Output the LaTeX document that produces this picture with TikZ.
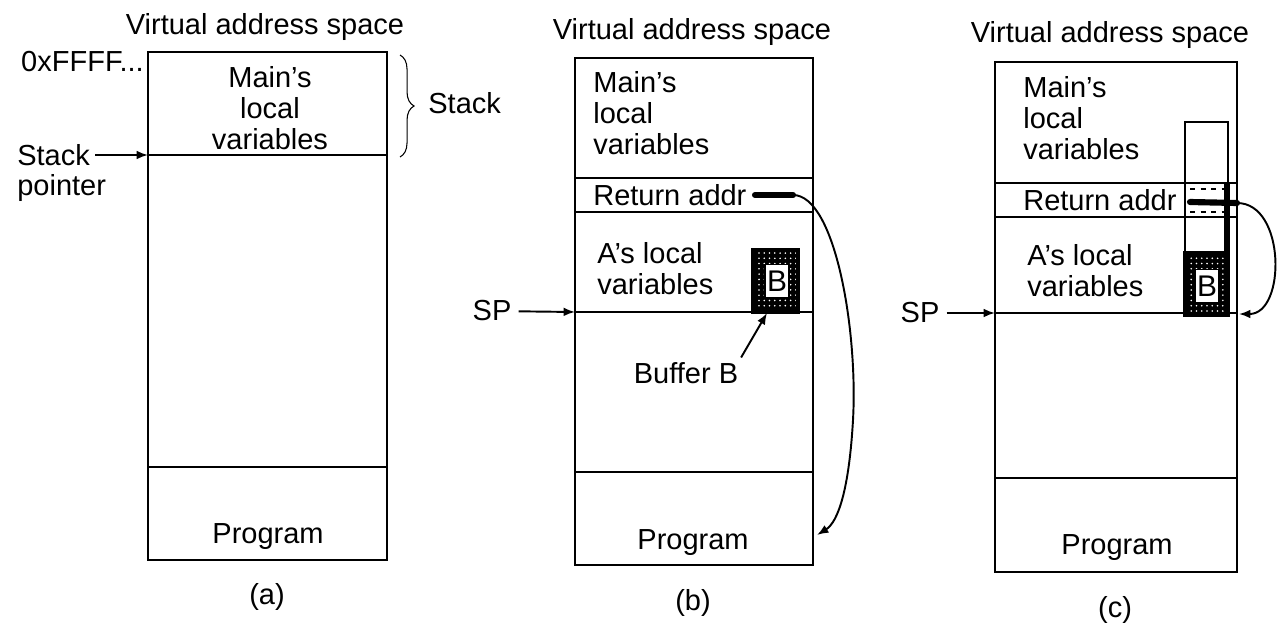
\documentclass[tikz,border=0pt]{standalone}
\usepackage{fontspec}
\setmainfont{Liberation Sans}
\usetikzlibrary{arrows.meta,positioning,calc,patterns,decorations.pathreplacing}

\begin{document}
\begin{tikzpicture}[
  x=0.02cm, y=-0.02cm,
  >={Latex[length=6.5pt,width=5pt]},
  lbl/.style={inner sep=0pt, font=\fontsize{16.5}{17.5}\selectfont},
  txt/.style={lbl, align=left, anchor=west},
  mem/.style={line width=1.1pt},
  arr/.style={->, line width=1.1pt},
  bar/.style={line width=3.5pt, line cap=round},
  bufbox/.style={draw, line width=1.1pt, fill=white, inner sep=0pt, minimum width=0.48cm, minimum height=0.66cm, font=\fontsize{17}{17}\selectfont},
]
\useasboundingbox (0,0) rectangle (1277,622);

%------------------- (a): before the call -------------------
\node (a-title) [lbl] at (265,27) {Virtual address space};
\draw[mem] (148,52) rectangle (387,560);
\draw[mem] (148,155) -- (387,155);
\draw[mem] (148,467) -- (387,467);
\node (a-main) [lbl, align=center] at (270,108) {Main's\\local\\variables};
\node (a-prog) [lbl] at (268,537) {Program};
\node (a-cap) [lbl] at (267,597) {(a)};
\node (a-top) [lbl, anchor=east] at (144,62) {0xFFFF...};

% stack pointer label
\node (a-stack) [lbl, anchor=west] at (17,155) {Stack};
\node (a-pointer) [lbl, anchor=west] at (17,188) {pointer};
\coordinate (a-sp) at (148,155);

% brace round the stack
\draw[decorate, decoration={brace, amplitude=8pt}, line width=0.6pt] (400,55) -- (400,157);
\node (a-stk) [lbl, anchor=west] at (428,103) {Stack};

%------------------- (b): A is called -------------------
\node (b-title) [lbl] at (692,32) {Virtual address space};
\draw[mem] (575,58) rectangle (813,565);
\foreach \y in {178,212,312,472} \draw[mem] (575,\y) -- (813,\y);
\node (b-main) [txt] at (593,113) {Main's\\local\\variables};
\node (b-ret) [txt] at (593,195) {Return addr};
\node (b-alocal) [txt] at (597,269) {A's local\\variables};
\node (b-prog) [lbl] at (693,543) {Program};
\node (b-cap) [lbl] at (693,603) {(b)};
\node (b-splbl) [lbl] at (492,311) {SP};
\coordinate (b-sp) at (575,312);

% buffer B
\fill[black] (753,250) rectangle (798,312);
\fill[pattern=dots, pattern color=white] (753,250) rectangle (798,312);
\draw[line width=2pt] (753,250) rectangle (798,312);
\node (b-buf) [bufbox] at (777,281) {B};
\coordinate (b-bufbot) at (767,313);
\node (b-bufname) [lbl] at (686,373) {Buffer B};

% return address
\coordinate (b-barL) at (755,195);
\coordinate (b-barR) at (793,195);
\coordinate (b-target) at (817,535);
\draw[bar] (b-barL) -- (b-barR);

%------------------- (c): buffer overflowed -------------------
\node (c-title) [lbl] at (1110,35) {Virtual address space};
\draw[mem] (995,62) rectangle (1237,572);
\foreach \y in {183,217,313,478} \draw[mem] (995,\y) -- (1237,\y);
\node (c-main) [txt] at (1023,118) {Main's\\local\\variables};
\node (c-ret) [txt] at (1023,200) {Return addr};
\node (c-alocal) [txt] at (1027,271) {A's local\\variables};
\node (c-prog) [lbl] at (1117,548) {Program};
\node (c-cap) [lbl] at (1115,610) {(c)};
\node (c-splbl) [lbl] at (920,313) {SP};
\coordinate (c-sp) at (995,313);

% overflowing buffer
\draw[mem] (1185,122) rectangle (1228,315);
\fill[black] (1185,253) rectangle (1228,315);
\fill[pattern=dots, pattern color=white] (1185,253) rectangle (1228,315);
\draw[line width=2pt] (1185,253) rectangle (1228,315);
\draw[line width=3pt] (1227,183) -- (1227,315);
\draw[dashed, line width=1pt] (1190,189) -- (1224,189);
\draw[dashed, line width=1pt] (1190,212) -- (1224,212);
\node (c-buf) [bufbox] at (1207,286) {B};

% overwritten return address
\coordinate (c-barL) at (1190,202);
\coordinate (c-barR) at (1237,203);
\coordinate (c-target) at (1239,314);
\draw[bar] (c-barL) -- (c-barR);

%------------------- Arrows -------------------
\draw[arr, shorten <=3pt] (a-stack) -- (a-sp);                 % stack pointer
\draw[arr, shorten <=4pt] (b-splbl) -- (b-sp);                 % SP in (b)
\draw[arr, shorten <=4pt] (c-splbl) -- (c-sp);                 % SP in (c)
\draw[arr, shorten <=3pt] (b-bufname.north east) -- (b-bufbot); % buffer B
\draw[arr] (b-barR) .. controls (835,195) and (858,330) .. (853,420)
  .. controls (849,490) and (838,522) .. (b-target);           % return to program
\draw[arr] (c-barR) .. controls (1286,203) and (1286,314) .. (c-target); % return into B

\end{tikzpicture}
\end{document}
